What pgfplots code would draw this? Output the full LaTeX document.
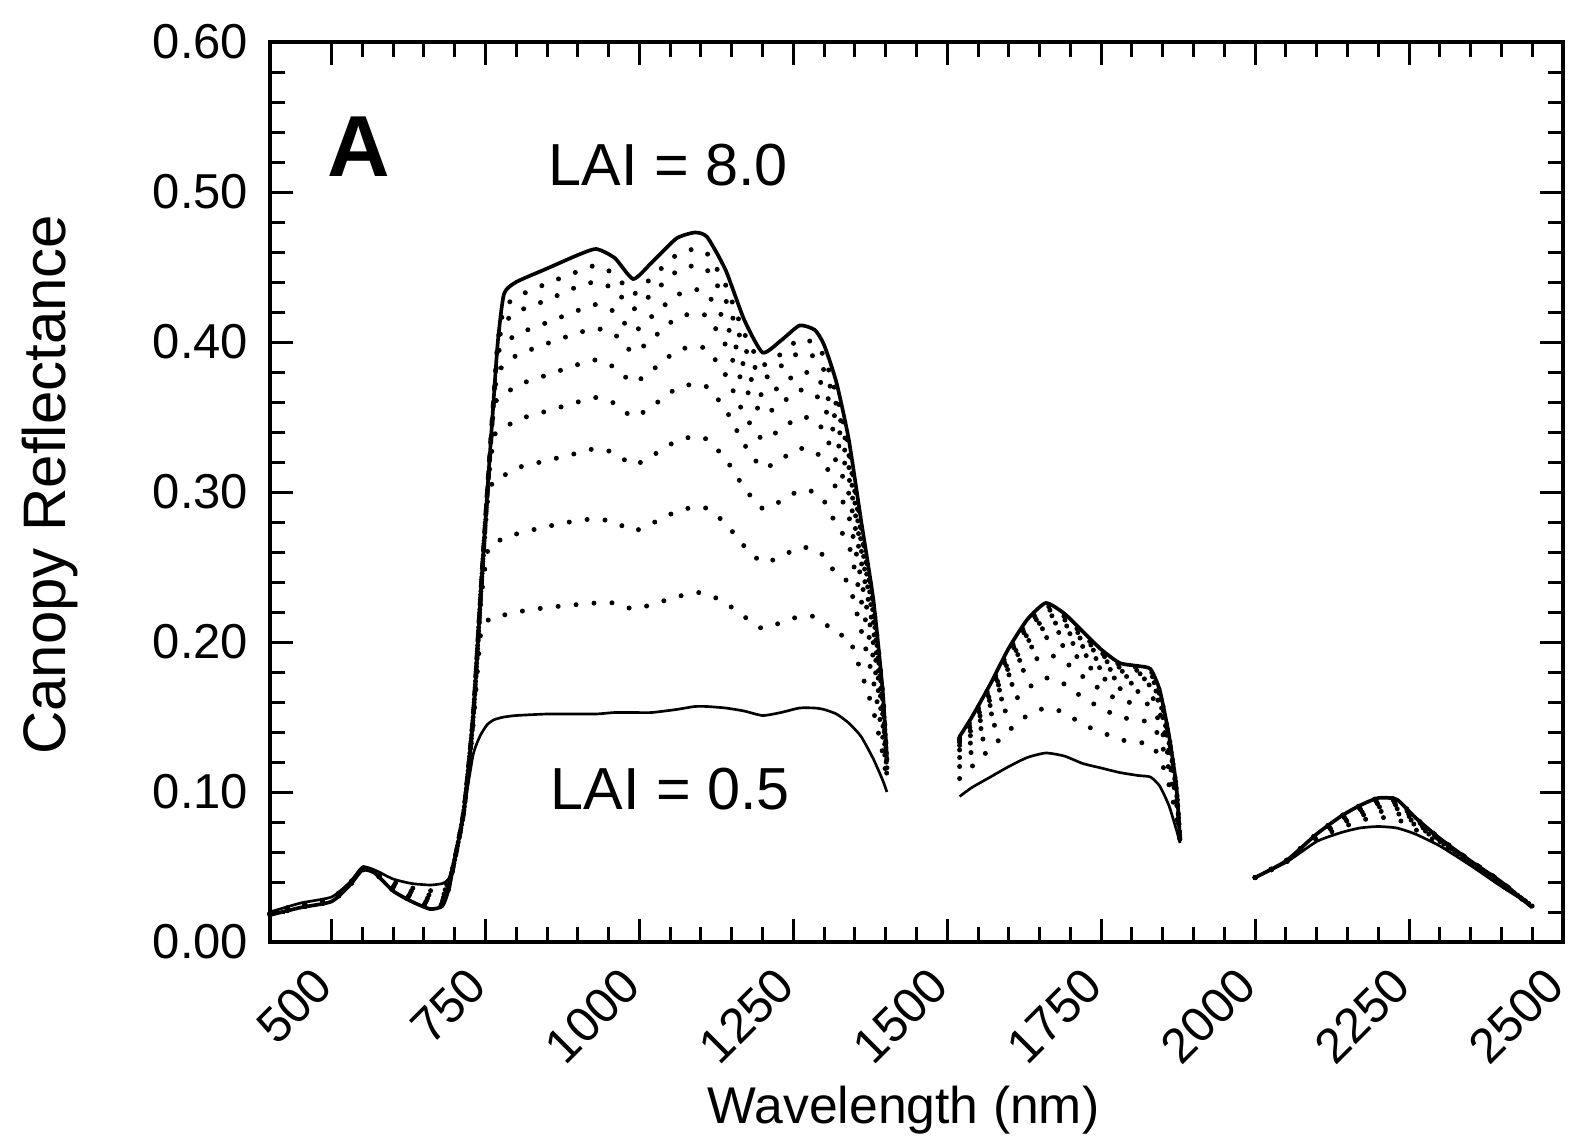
\documentclass[border=0pt]{standalone}
\usepackage{fontspec}
\setmainfont{Liberation Sans}
\usepackage{pgfplots}
\usepackage{pgfplotstable}
\pgfplotsset{compat=1.18}

\pgfplotstableread{
x c0 c1 c2 c3 c4 c5 c6 c7 c8 c9 c10
400 0.020 0.0195 0.0192 0.0189 0.0186 0.0185 0.0183 0.0182 0.0181 0.0181 0.018
450 0.026 0.0253 0.0247 0.0243 0.0240 0.0237 0.0235 0.0234 0.0232 0.0231 0.023
500 0.030 0.0293 0.0287 0.0283 0.0280 0.0277 0.0275 0.0274 0.0272 0.0271 0.027
530 0.040 0.0395 0.0392 0.0389 0.0386 0.0385 0.0383 0.0382 0.0381 0.0381 0.038
550 0.050 0.0495 0.0492 0.0489 0.0486 0.0485 0.0483 0.0482 0.0481 0.0481 0.048
570 0.048 0.0475 0.0472 0.0469 0.0466 0.0465 0.0463 0.0462 0.0461 0.0461 0.046
600 0.042 0.0401 0.0386 0.0374 0.0366 0.0359 0.0354 0.0350 0.0346 0.0343 0.034
630 0.039 0.0361 0.0340 0.0322 0.0308 0.0299 0.0290 0.0284 0.0278 0.0274 0.027
660 0.038 0.0342 0.0313 0.0289 0.0271 0.0258 0.0247 0.0239 0.0231 0.0226 0.022
680 0.039 0.0354 0.0327 0.0305 0.0288 0.0276 0.0266 0.0258 0.0251 0.0245 0.024
690 0.042 0.0403 0.0391 0.0380 0.0372 0.0367 0.0362 0.0358 0.0355 0.0352 0.035
700 0.055 0.055 0.055 0.055 0.055 0.055 0.055 0.055 0.055 0.055 0.055
715 0.088 0.088 0.088 0.088 0.088 0.088 0.088 0.088 0.088 0.088 0.088
730 0.125 0.145 0.150 0.150 0.150 0.150 0.150 0.150 0.150 0.150 0.150
742 0.138 0.205 0.225 0.230 0.230 0.230 0.230 0.230 0.230 0.230 0.230
753 0.145 0.214 0.260 0.293 0.300 0.300 0.300 0.300 0.300 0.300 0.300
763 0.148 0.217 0.266 0.308 0.336 0.355 0.360 0.360 0.360 0.360 0.360
770 0.149 0.218 0.268 0.310 0.340 0.362 0.380 0.392 0.398 0.400 0.400
780 0.150 0.218 0.268 0.311 0.342 0.364 0.384 0.398 0.412 0.422 0.432
800 0.151 0.220 0.272 0.316 0.348 0.371 0.391 0.405 0.420 0.430 0.440
850 0.152 0.223 0.277 0.321 0.354 0.378 0.399 0.413 0.428 0.439 0.449
900 0.152 0.225 0.281 0.326 0.360 0.385 0.406 0.421 0.437 0.447 0.458
930 0.152 0.226 0.282 0.329 0.363 0.388 0.409 0.425 0.440 0.451 0.462
960 0.153 0.226 0.280 0.326 0.359 0.383 0.405 0.420 0.435 0.445 0.456
990 0.153 0.222 0.274 0.318 0.350 0.373 0.393 0.407 0.422 0.432 0.442
1020 0.153 0.225 0.279 0.324 0.357 0.381 0.402 0.417 0.432 0.443 0.453
1060 0.155 0.230 0.287 0.334 0.369 0.394 0.416 0.431 0.447 0.458 0.469
1090 0.157 0.233 0.290 0.337 0.372 0.397 0.419 0.435 0.451 0.462 0.473
1110 0.157 0.232 0.289 0.335 0.370 0.395 0.417 0.432 0.448 0.459 0.470
1140 0.156 0.226 0.279 0.322 0.355 0.378 0.398 0.413 0.428 0.438 0.448
1170 0.154 0.217 0.264 0.303 0.332 0.352 0.371 0.384 0.397 0.406 0.415
1200 0.151 0.209 0.253 0.289 0.316 0.335 0.352 0.364 0.376 0.385 0.393
1230 0.153 0.213 0.257 0.294 0.322 0.342 0.359 0.371 0.384 0.392 0.401
1260 0.156 0.217 0.263 0.301 0.329 0.350 0.368 0.380 0.393 0.402 0.411
1285 0.156 0.217 0.262 0.300 0.327 0.348 0.365 0.378 0.390 0.399 0.408
1300 0.155 0.213 0.257 0.294 0.320 0.340 0.357 0.369 0.381 0.390 0.398
1320 0.152 0.205 0.245 0.278 0.302 0.320 0.335 0.347 0.358 0.365 0.373
1340 0.146 0.203 0.239 0.265 0.284 0.299 0.310 0.317 0.325 0.330 0.335
1360 0.137 0.180 0.208 0.228 0.242 0.254 0.262 0.267 0.273 0.277 0.281
1380 0.122 0.154 0.174 0.189 0.199 0.208 0.214 0.218 0.222 0.225 0.228
1395 0.108 0.126 0.137 0.146 0.152 0.157 0.160 0.162 0.165 0.167 0.168
1402 0.100 0.107 0.111 0.114 0.116 0.118 0.119 0.120 0.121 0.121 0.122
1450 nan nan nan nan nan nan nan nan nan nan nan
1520 0.097 0.109 0.117 0.123 0.128 0.131 0.133 0.134 0.135 0.136 0.137
1540 0.103 0.117 0.127 0.134 0.139 0.142 0.145 0.147 0.148 0.149 0.150
1570 0.110 0.129 0.141 0.151 0.158 0.162 0.165 0.168 0.170 0.171 0.172
1600 0.117 0.141 0.157 0.169 0.178 0.183 0.187 0.191 0.193 0.194 0.196
1630 0.123 0.151 0.169 0.184 0.194 0.200 0.205 0.209 0.211 0.213 0.215
1660 0.126 0.156 0.176 0.192 0.203 0.210 0.215 0.219 0.222 0.224 0.226
1690 0.124 0.153 0.172 0.187 0.197 0.204 0.209 0.212 0.215 0.217 0.219
1720 0.119 0.145 0.163 0.177 0.187 0.193 0.197 0.201 0.203 0.205 0.207
1750 0.116 0.140 0.156 0.168 0.177 0.182 0.186 0.190 0.192 0.193 0.195
1780 0.113 0.135 0.150 0.161 0.169 0.174 0.178 0.181 0.183 0.185 0.186
1810 0.111 0.133 0.148 0.159 0.167 0.172 0.176 0.179 0.181 0.183 0.184
1830 0.110 0.132 0.146 0.158 0.165 0.171 0.174 0.177 0.179 0.181 0.182
1845 0.104 0.123 0.136 0.146 0.153 0.158 0.161 0.164 0.165 0.167 0.168
1860 0.091 0.105 0.115 0.122 0.127 0.130 0.133 0.135 0.136 0.137 0.138
1872 0.075 0.084 0.090 0.094 0.097 0.099 0.101 0.102 0.103 0.103 0.104
1878 0.066 0.067 0.067 0.068 0.068 0.068 0.068 0.068 0.068 0.068 0.068
1950 nan nan nan nan nan nan nan nan nan nan nan
2000 0.043 0.043 0.043 0.043 0.043 0.043 0.043 0.043 0.043 0.043 0.043
2050 0.053 0.053 0.054 0.054 0.054 0.054 0.054 0.054 0.054 0.054 0.054
2100 0.067 0.069 0.070 0.070 0.071 0.071 0.071 0.072 0.072 0.072 0.072
2140 0.073 0.076 0.079 0.080 0.082 0.082 0.083 0.083 0.084 0.084 0.084
2170 0.076 0.081 0.084 0.086 0.088 0.089 0.089 0.090 0.090 0.091 0.091
2200 0.077 0.083 0.087 0.090 0.092 0.093 0.094 0.095 0.095 0.096 0.096
2230 0.076 0.082 0.086 0.089 0.091 0.092 0.093 0.094 0.094 0.095 0.095
2260 0.072 0.075 0.078 0.079 0.080 0.081 0.082 0.082 0.082 0.083 0.083
2300 0.064 0.066 0.067 0.067 0.068 0.068 0.068 0.069 0.069 0.069 0.069
2350 0.051 0.052 0.053 0.053 0.053 0.053 0.054 0.054 0.054 0.054 0.054
2400 0.037 0.038 0.039 0.039 0.039 0.039 0.040 0.040 0.040 0.040 0.040
2450 0.024 0.024 0.024 0.024 0.024 0.024 0.023 0.023 0.023 0.023 0.023
}\spectra

\begin{document}
\begin{tikzpicture}
\begin{axis}[
  scale only axis,
  width=387.9pt, height=270pt,
  xmin=400, xmax=2500, ymin=0, ymax=0.6,
  xtick={500,750,1000,1250,1500,1750,2000,2250,2500},
  ytick={0,0.1,0.2,0.3,0.4,0.5,0.6},
  minor x tick num=4, minor y tick num=4,
  tick align=inside,
  major tick length=7pt, minor tick length=4.5pt,
  tick style={line width=0.9pt, black},
  axis line style={line width=1.2pt},
  unbounded coords=jump,
  /pgf/number format/assume math mode=true,
  yticklabel style={/pgf/number format/fixed, /pgf/number format/fixed zerofill, /pgf/number format/precision=2, font=\fontsize{14.7}{16}\selectfont, xshift=-3pt},
  xticklabel shift=8pt,
  xticklabel style={rotate=45, anchor=east, font=\fontsize{14.7}{16}\selectfont, /pgf/number format/1000 sep={}},
  scaled y ticks=false,
  xlabel={Wavelength (nm)},
  ylabel={Canopy Reflectance},
  xlabel style={font=\fontsize{15.5}{18}\selectfont, at={(axis description cs:0.49,-0.187)}, anchor=center},
  ylabel style={font=\fontsize{18}{20}\selectfont, at={(axis description cs:-0.170,0.508)}, rotate=0, anchor=center},
  clip=false,
]
\addplot[black, line width=0.8pt, smooth, tension=0.35] table[x=x, y=c0] {\spectra};
\foreach \c in {c1,c2,c3,c4,c5,c6,c7,c8,c9}{
  \addplot[black, line width=1.5pt, line cap=round, dash pattern=on 0pt off 5.4pt, smooth, tension=0.35] table[x=x, y=\c] {\spectra};
}
\addplot[black, line width=1.1pt, smooth, tension=0.35] table[x=x, y=c10] {\spectra};

\node[font=\fontsize{26}{28}\selectfont\bfseries] at (axis cs:544,0.53) {A};
\node[font=\fontsize{17.8}{20}\selectfont] at (axis cs:1047,0.518) {LAI = 8.0};
\node[font=\fontsize{17.8}{20}\selectfont] at (axis cs:1050,0.102) {LAI = 0.5};
\end{axis}
\pgfresetboundingbox
\useasboundingbox (-81pt,-61.2pt) rectangle (391.2pt,282.6pt);
\end{tikzpicture}
\end{document}
